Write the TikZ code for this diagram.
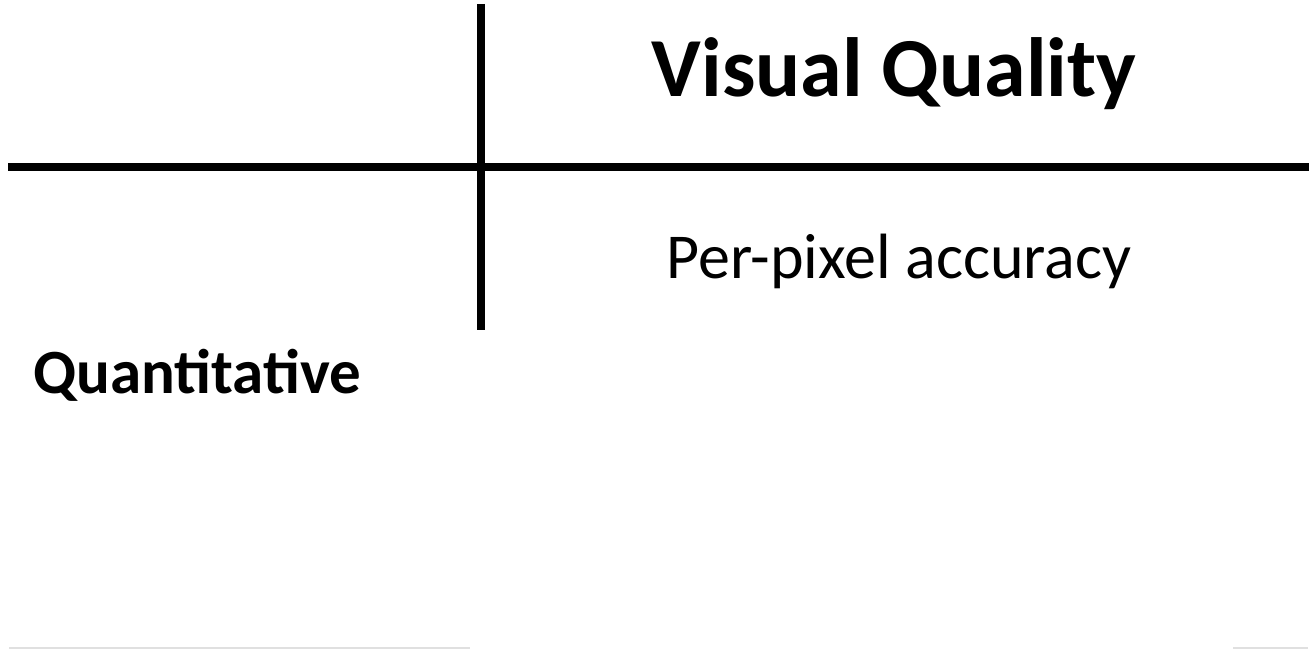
\documentclass[tikz,border=0pt]{standalone}
\usepackage{fontspec}
\setmainfont{Carlito}
\usetikzlibrary{positioning}

\begin{document}
\begin{tikzpicture}[x=1pt,y=-1pt,
    rule/.style={line width=8pt},
    faint/.style={line width=1.5pt,color=black!12},
    head/.style={font=\fontsize{84}{96}\selectfont\bfseries,inner sep=0pt,anchor=base},
    cell/.style={font=\fontsize{64}{72}\selectfont,inner sep=0pt,anchor=base},
    rowhead/.style={font=\fontsize{63}{70}\selectfont\bfseries,inner sep=0pt,anchor=base west}]
      \useasboundingbox (0,0) rectangle (1309,650);
      \coordinate (vtop) at (481,4);
      \coordinate (vbot) at (481,330);
      \coordinate (hleft) at (8,167);
      \coordinate (hright) at (1309,167);
      \draw [rule] (vtop) -- (vbot); % Column separator.
      \draw [rule] (hleft) -- (hright); % Header rule.
      \coordinate (fl1) at (9,648);
      \coordinate (fl2) at (470,648);
      \coordinate (fr1) at (1233,648);
      \coordinate (fr2) at (1308,648);
      \draw [faint] (fl1) -- (fl2);
      \draw [faint] (fr1) -- (fr2);

      \node [head] (quality) at (894,97) {Visual Quality};
      \node [cell] (pixel) at (899,278) {Per-pixel accuracy};
      \node [rowhead] (quant) at (33,393) {Quantitative};
    \end{tikzpicture}
\end{document}
